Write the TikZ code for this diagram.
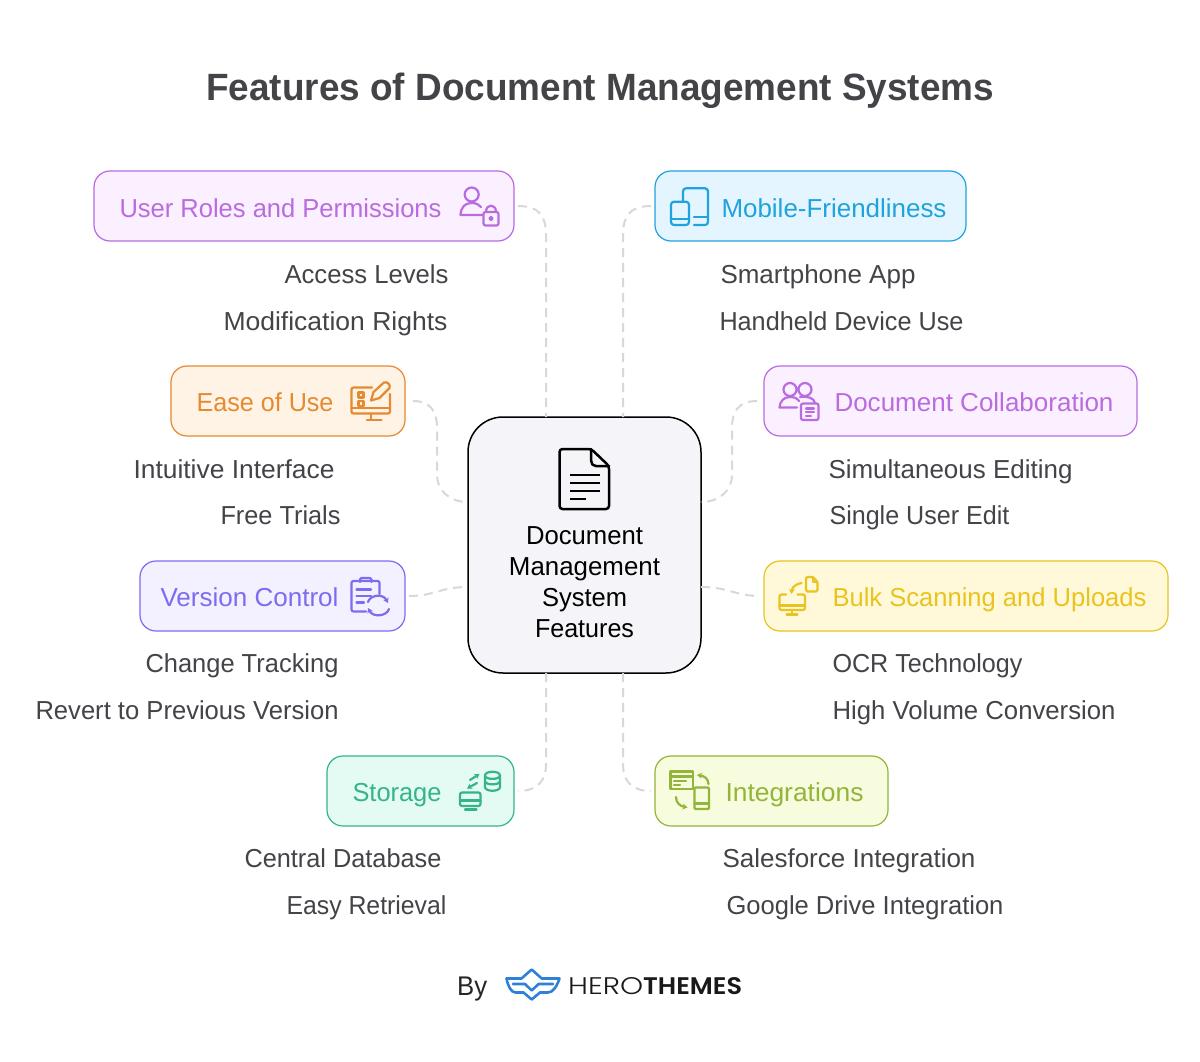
\documentclass[tikz,border=0pt]{standalone}
\usepackage{fontspec}
\usepackage{graphicx}
\setmainfont{Liberation Sans}
\newfontfamily\lightf[UprightFont=* Light,BoldFont=* SemiBold]{Poppins}
\usetikzlibrary{arrows.meta}
\definecolor{txt}{HTML}{444348}
\definecolor{conn}{HTML}{D9D7DC}
\definecolor{centre}{HTML}{F5F4F8}
\definecolor{purpS}{HTML}{B96CE0}\definecolor{purpF}{HTML}{FBF0FF}
\definecolor{blueS}{HTML}{1FA3DC}\definecolor{blueF}{HTML}{E5F5FF}
\definecolor{orS}{HTML}{E58A2F}\definecolor{orF}{HTML}{FFF3E6}
\definecolor{viS}{HTML}{7B6CF0}\definecolor{viF}{HTML}{F3F0FF}
\definecolor{yeS}{HTML}{E9C31F}\definecolor{yeF}{HTML}{FFF9D9}
\definecolor{grS}{HTML}{35B48A}\definecolor{grF}{HTML}{E3FBF3}
\definecolor{liS}{HTML}{93B53A}\definecolor{liF}{HTML}{F6FCDD}
\definecolor{logo}{HTML}{2F80D8}
\newcommand{\Fit}[2]{\resizebox{#1pt}{\height}{#2}}
% name, x, baseline, width, colour, text
\newcommand{\Lab}[6]{\node[lab,text=#5] (#1) at (#2,#3) {\Fit{#4}{#6}};}
\tikzset{
  x=1pt,y=-1pt,
  lab/.style={anchor=base west,inner sep=0pt,outer sep=0pt,font=\fontsize{26}{30}\selectfont},
  mid/.style={anchor=base,inner sep=0pt,outer sep=0pt,font=\fontsize{26}{30}\selectfont,text=black},
  card/.style 2 args={draw=#1,fill=#2,line width=1.2pt,rounded corners=16pt,minimum height=70pt,inner sep=0pt,outer sep=0pt},
  link/.style={draw=conn,line width=2pt,dash pattern=on 9pt off 6pt},
  ico/.style={line width=2.2pt,line cap=round,line join=round},
  tip/.style={-{Stealth[length=5pt,width=6pt]}}
}
\begin{document}
\begin{tikzpicture}
\useasboundingbox (0,0) rectangle (1200,1062);
\fill[white] (0,0) rectangle (1200,1062);
% title
\node[anchor=base west,inner sep=0pt,text=txt] (title) at (206,101) {\Fit{788}{\fontsize{38}{44}\selectfont\bfseries Features of Document Management Systems}};
% centre
\node[draw=black,fill=centre,line width=1.5pt,rounded corners=35pt,minimum width=233pt,minimum height=256pt,inner sep=0pt,outer sep=0pt] (c) at (584.5,545) {};
\node[mid] (m1) at (584.5,544) {\Fit{117}{Document}};
\node[mid] (m2) at (584.5,575) {\Fit{151}{Management}};
\node[mid] (m3) at (584.5,606) {\Fit{85}{System}};
\node[mid] (m4) at (584.5,637) {\Fit{99}{Features}};
% centre document icon
\draw[line width=2.5pt,line join=round,line cap=round,rounded corners=3pt] (591.2,449) -- (559.5,449) -- (559.5,509) -- (609,509) -- (609,466) -- cycle;
\draw[line width=2.5pt,line join=round,line cap=round] (591.2,449) -- (591.2,461) .. controls (591.2,464) and (593,466) .. (596,466) -- (609,466);
\draw[line width=2pt] (569.5,475) -- (600,475) (569.5,483) -- (600,483) (569.5,491) -- (600,491) (569.5,499) -- (585.5,499);
% cards
\node[card={purpS}{purpF},minimum width=420pt] (ur) at (304,206) {};
\node[card={blueS}{blueF},minimum width=311pt] (mf) at (810.5,206) {};
\node[card={orS}{orF},minimum width=234pt] (eu) at (288,401) {};
\node[card={purpS}{purpF},minimum width=373pt] (dc) at (950.5,401) {};
\node[card={viS}{viF},minimum width=265pt] (vc) at (272.5,596) {};
\node[card={yeS}{yeF},minimum width=404pt] (bs) at (966,596) {};
\node[card={grS}{grF},minimum width=187pt] (st) at (420.5,791) {};
\node[card={liS}{liF},minimum width=233pt] (ig) at (771.5,791) {};
% connector ends on the centre box
\coordinate (c1) at (546,417);
\coordinate (c2) at (623,417);
\coordinate (c3) at (468,502);
\coordinate (c4) at (701,502);
\coordinate (c5) at (468,587);
\coordinate (c6) at (701,587);
\coordinate (c7) at (546,673);
\coordinate (c8) at (623,673);
\draw[link] ([xshift=4pt]ur.east) .. controls (540,206) and (546,217) .. (546,235) -- (c1);
\draw[link] ([xshift=-4pt]mf.west) .. controls (629,206) and (623,217) .. (623,235) -- (c2);
\draw[link] ([xshift=8pt]eu.east) .. controls (431,401) and (437,412) .. (437,428) -- (437,475) .. controls (437,490) and (449,502) .. (c3);
\draw[link] ([xshift=-7pt]dc.west) .. controls (738,401) and (732,412) .. (732,428) -- (732,475) .. controls (732,490) and (720,502) .. (c4);
\draw[link] ([xshift=4pt]vc.east) .. controls (435,596) and (440,587) .. (c5);
\draw[link] (c6) .. controls (729,587) and (735,596) .. ([xshift=-4pt]bs.west);
\draw[link] (c7) -- (546,765) .. controls (546,780) and (538,791) .. ([xshift=4pt]st.east);
\draw[link] (c8) -- (623,765) .. controls (623,780) and (631,791) .. ([xshift=-4pt]ig.west);
% card labels
\Lab{lur}{119.5}{217}{322}{purpS}{User Roles and Permissions}
\Lab{lmf}{721.5}{217}{225}{blueS}{Mobile-Friendliness}
\Lab{leu}{196.5}{411.5}{137}{orS}{Ease of Use}
\Lab{ldc}{834.5}{411.5}{279}{purpS}{Document Collaboration}
\Lab{lvc}{160.5}{606.5}{178}{viS}{Version Control}
\Lab{lbs}{832.5}{606.5}{314}{yeS}{Bulk Scanning and Uploads}
\Lab{lst}{352.5}{801.5}{89}{grS}{Storage}
\Lab{lig}{725.5}{801.5}{138}{liS}{Integrations}
% sub labels
\Lab{a1}{284.5}{283}{164}{txt}{Access Levels}
\Lab{a2}{223.5}{330}{224}{txt}{Modification Rights}
\Lab{b1}{720.5}{283}{195}{txt}{Smartphone App}
\Lab{b2}{719.5}{330}{244}{txt}{Handheld Device Use}
\Lab{d1}{133.5}{478}{201}{txt}{Intuitive Interface}
\Lab{d2}{220.5}{524.5}{120}{txt}{Free Trials}
\Lab{e1}{828.5}{478}{244}{txt}{Simultaneous Editing}
\Lab{e2}{829.5}{524.5}{180}{txt}{Single User Edit}
\Lab{f1}{145.5}{672.5}{193}{txt}{Change Tracking}
\Lab{f2}{35.5}{719.5}{303}{txt}{Revert to Previous Version}
\Lab{g1}{832.5}{672.5}{190}{txt}{OCR Technology}
\Lab{g2}{832.5}{719.5}{283}{txt}{High Volume Conversion}
\Lab{h1}{244.5}{867.5}{197}{txt}{Central Database}
\Lab{h2}{286.5}{914.5}{160}{txt}{Easy Retrieval}
\Lab{i1}{722.5}{867.5}{253}{txt}{Salesforce Integration}
\Lab{i2}{726.5}{914.5}{277}{txt}{Google Drive Integration}
% icon: user roles
\begin{scope}[ico,draw=purpS]
\draw (471.7,194.5) circle[radius=7];
\draw (483,215) -- (460.5,215) .. controls (461,207) and (465,203) .. (471.7,203) .. controls (476,203) and (479,204.5) .. (481,207);
\draw[rounded corners=2pt] (483.5,212) rectangle (498.5,225.5);
\draw (486,212) .. controls (486,203.5) and (496,203.5) .. (496,212);
\draw (491,218.5) circle[radius=1.6];
\end{scope}
% icon: mobile
\begin{scope}[ico,draw=blueS]
\draw[rounded corners=3pt] (683,202) -- (683,188.3) -- (708,188.3) -- (708,225) -- (694,225);
\draw (694,217.3) -- (708,217.3);
\draw[rounded corners=3pt] (671,201.7) rectangle (689,225);
\draw (671,219.3) -- (689,219.3);
\end{scope}
% icon: ease of use
\begin{scope}[ico,draw=orS]
\draw[rounded corners=2pt] (372,387.5) -- (351.5,387.5) -- (351.5,413.5) -- (390,413.5) -- (390,394);
\draw (351.5,408) -- (390,408);
\draw (371,413.5) -- (371,419.5) (367,420) -- (381.5,420);
\draw (358.5,392.5) rectangle (363.5,397.5) (358.5,401) rectangle (363.5,406);
\draw (371,400.5) -- (373.5,392) -- (384,382.5) .. controls (387,381) and (391,385) .. (389.5,388) -- (379.5,398) -- cycle;
\end{scope}
% icon: collaboration
\begin{scope}[ico,draw=purpS]
\draw (790,389.5) circle[radius=6.5] (805,389.5) circle[radius=6.5];
\draw (797,407.5) -- (779.5,407.5) .. controls (780,401) and (784,397) .. (790,397) .. controls (794,397) and (797,398) .. (799,401);
\draw (800,397) .. controls (808,396) and (814,398) .. (815,403);
\draw[rounded corners=2pt] (801,403.5) rectangle (818.5,420);
\draw (806,408.5) -- (814,408.5) (806,412.3) -- (814,412.3) (806,416) -- (811,416);
\end{scope}
% icon: version control
\begin{scope}[ico,draw=viS]
\draw[rounded corners=2pt] (366,611.5) -- (351.5,611.5) -- (351.5,581) -- (379.5,581) -- (379.5,594);
\draw[rounded corners=1.5pt] (360,582) -- (360,578) -- (371.5,578) -- (371.5,582);
\draw (356.5,589.5) -- (371,589.5) (356.5,596) -- (371,596) (356.5,602.5) -- (364,602.5);
\draw[tip] (368,602) .. controls (370,595) and (383,593) .. (388,603);
\draw[tip] (389,609) .. controls (387,616) and (373,618) .. (368,608);
\end{scope}
% icon: bulk scanning
\begin{scope}[ico,draw=yeS]
\draw[rounded corners=2pt] (786,594.5) -- (779.5,594.5) -- (779.5,610) -- (805,610) -- (805,594.5) -- (797.5,594.5);
\draw (792,610) -- (792,614) (786.5,614.5) -- (797.5,614.5);
\draw (779.5,605.5) -- (805,605.5);
\draw[rounded corners=1.5pt] (813,577) -- (806,577) -- (806,591.5) -- (817.5,591.5) -- (817.5,582) -- cycle;
\draw (813,577) -- (813,582) -- (817.5,582);
\draw[tip] (801.5,583) .. controls (796,584) and (792,587) .. (791.5,594);
\end{scope}
% icon: storage
\begin{scope}[ico,draw=grS]
\draw (485,775.5) .. controls (485,770.5) and (500,770.5) .. (500,775.5) -- (500,787) .. controls (500,792) and (485,792) .. (485,787) -- cycle;
\draw (485,775.5) .. controls (485,780) and (500,780) .. (500,775.5);
\draw (485,781) .. controls (485,785.5) and (500,785.5) .. (500,781);
\draw[rounded corners=2pt] (460,792.5) rectangle (480.5,806);
\draw (460,800.5) -- (480.5,800.5) (465,809.5) -- (476.5,809.5);
\draw[tip] (470,780) -- (479.5,774);
\draw[tip] (477,783) -- (467,788.5);
\end{scope}
% icon: integrations
\begin{scope}[ico,draw=liS]
\draw (670.5,771.5) rectangle (693,789);
\draw (670.5,776.5) -- (693,776.5) (674,781) -- (686,781) (674,785) -- (680,785);
\draw[rounded corners=1pt] (694.5,787.5) rectangle (709,809);
\draw (694.5,803.5) -- (709,803.5);
\draw[tip] (708.5,784) .. controls (708,778) and (704,776) .. (697,775);
\draw[tip] (676,797) .. controls (676,803) and (680,806) .. (687.5,807.5);
\end{scope}
% footer
\node[anchor=base west,inner sep=0pt,text=black!85] (by) at (457,995) {\Fit{30}{\fontsize{27}{30}\selectfont By}};
\node[anchor=base west,inner sep=0pt,text=black!90] (hero) at (568,994) {\Fit{75}{\fontsize{24}{28}\lightf HERO}};
\node[anchor=base west,inner sep=0pt,text=black!90] (themes) at (643,994) {\Fit{99}{\fontsize{24}{28}\lightf\bfseries THEMES}};
\begin{scope}[draw=logo,line width=2.6pt,line join=round,line cap=round]
\draw (506.5,978.5) -- (521.5,978.5) -- (531.7,969.5) -- (541.7,978.5) -- (559.5,978.5) .. controls (557,986) and (553,992.5) .. (548,992.5) -- (540,992.5) -- (531.7,999.5) -- (523.5,992.5) -- (515.5,992.5) .. controls (511,992.5) and (508,986) .. (506.5,978.5);
\draw (513,984) -- (525,984) -- (531.7,990.5) -- (538.5,984) -- (553,984);
\end{scope}
\end{tikzpicture}
\end{document}
